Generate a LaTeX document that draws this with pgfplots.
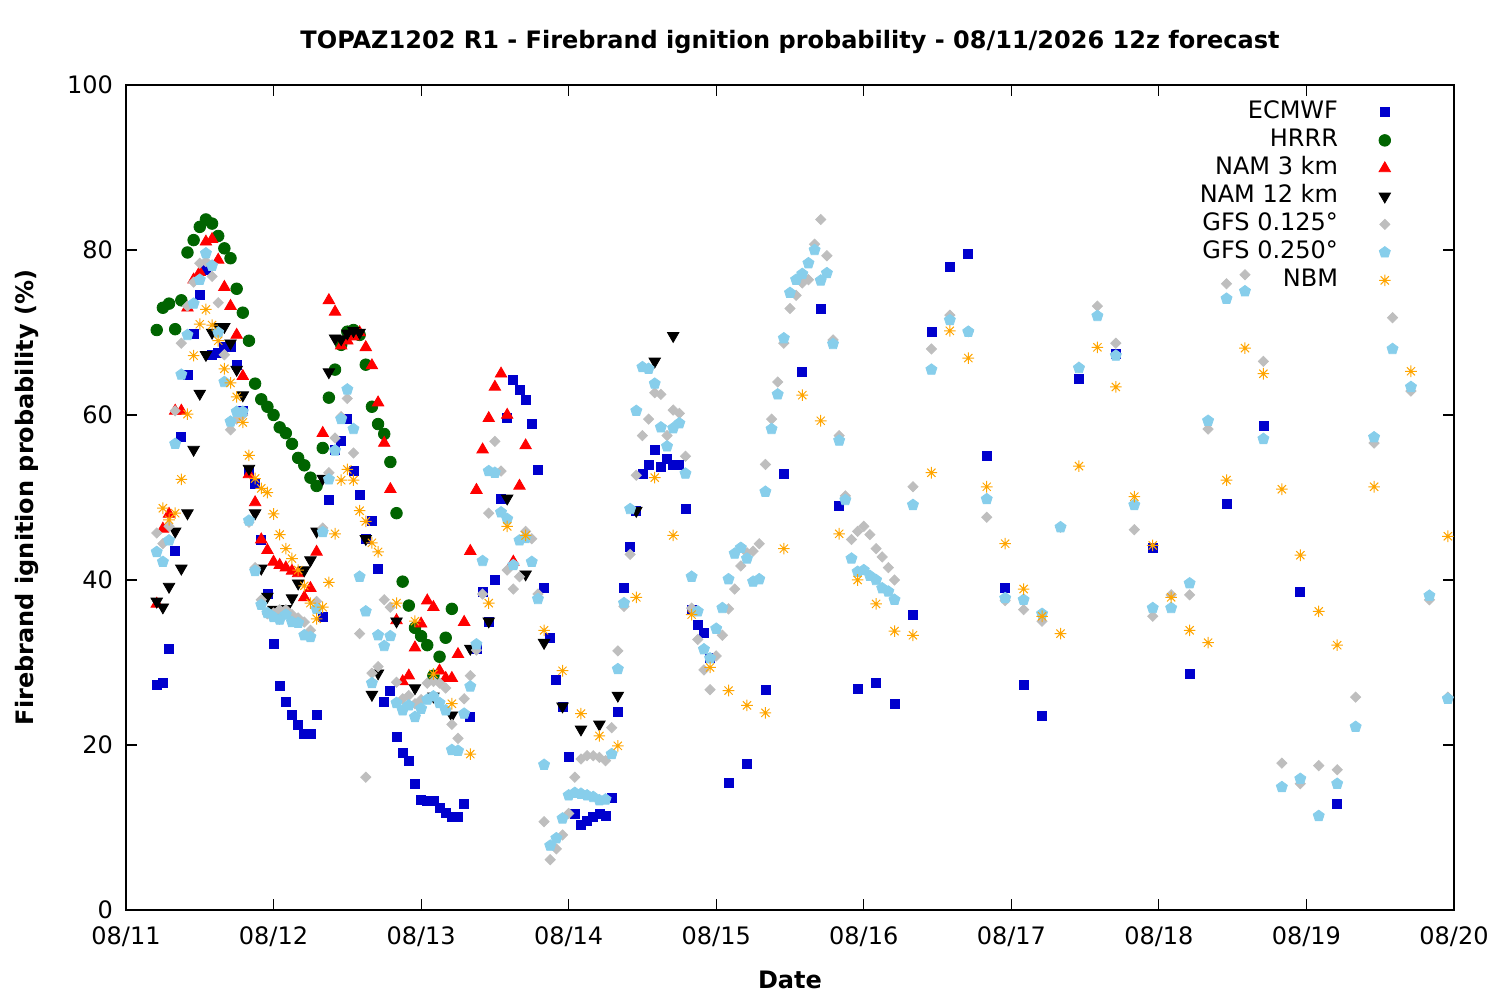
\documentclass[border=0pt]{standalone}
\usepackage{fontspec}
\setmainfont{DejaVu Sans}
\usepackage{pgfplots}
\pgfplotsset{compat=1.18}
\definecolor{ecm}{RGB}{0,0,205}
\definecolor{hrrr}{RGB}{0,100,0}
\definecolor{gfsa}{RGB}{190,190,190}
\definecolor{gfsb}{RGB}{135,206,235}
\definecolor{nbm}{RGB}{255,165,0}
\pgfdeclareplotmark{ast8}{%
 \pgfpathmoveto{\pgfqpoint{0pt}{\pgfplotmarksize}}\pgfpathlineto{\pgfqpoint{0pt}{-\pgfplotmarksize}}%
 \pgfpathmoveto{\pgfqpoint{\pgfplotmarksize}{0pt}}\pgfpathlineto{\pgfqpoint{-\pgfplotmarksize}{0pt}}%
 \pgfpathmoveto{\pgfqpoint{.707\pgfplotmarksize}{.707\pgfplotmarksize}}\pgfpathlineto{\pgfqpoint{-.707\pgfplotmarksize}{-.707\pgfplotmarksize}}%
 \pgfpathmoveto{\pgfqpoint{-.707\pgfplotmarksize}{.707\pgfplotmarksize}}\pgfpathlineto{\pgfqpoint{.707\pgfplotmarksize}{-.707\pgfplotmarksize}}%
 \pgfusepathqstroke}
\newcommand\f{\fontsize{12pt}{14.4pt}\selectfont}
\begin{document}
\begin{tikzpicture}
\begin{axis}[
 scale only axis, width=664pt, height=412.5pt,
 xmin=0, xmax=216, ymin=0, ymax=100,
 xtick={0,24,...,216},
 xticklabels={08/11,08/12,08/13,08/14,08/15,08/16,08/17,08/18,08/19,08/20},
 ytick={0,20,...,100},
 /pgf/number format/assume math mode=true,
 tick pos=both, tick align=inside, major tick length=5.5pt,
 every tick/.style={black, line width=0.6pt},
 axis line style={line width=0.6pt},
 tick label style={font=\f},
 yticklabel style={xshift=-3pt},
 xticklabel style={yshift=-5pt},
 every axis x label/.style={at={(axis description cs:0.5,-0.0848)},anchor=center},
 every axis y label/.style={at={(axis description cs:-0.0745,0.5)},rotate=90,anchor=center},
 every axis title/.style={at={(axis description cs:0.5,1.052)},anchor=center,font=\f\bfseries},
 label style={font=\f\bfseries},
 xlabel={Date},
 ylabel={Firebrand ignition probability (\%)},
 title={TOPAZ1202 R1 - Firebrand ignition probability - 08/11/2026 12z forecast},
 legend plot pos=right, legend cell align=right,
 legend style={draw=none, fill=none, at={(rel axis cs:1,1)}, anchor=north east,
   xshift=-31.5pt, yshift=-6.5pt, inner sep=0pt, row sep=0pt, column sep=19pt,
   nodes={inner sep=1.5pt, text height=8.5pt, text depth=2.5pt, font=\f}},
]
\addplot[only marks, mark=square*, mark size=2.25pt, color=ecm] coordinates {
(5,27.3)(6,27.5)(7,31.6)(8,43.5)(9,57.3)(10,64.9)(11,69.8)(12,74.5)(13,77.6)(14,67.3)(15,67.5)(16,68.3)(17,68.2)(18,66.1)(19,60.5)(20,53.1)(21,51.7)(22,44.8)(23,38.3)(24,32.2)(25,27.2)(26,25.2)(27,23.6)(28,22.4)(29,21.3)(30,21.3)(31,23.7)(32,35.5)(33,49.7)(34,55.8)(35,56.8)(36,59.5)(37,53.2)(38,50.3)(39,45.0)(40,47.2)(41,41.4)(42,25.2)(43,26.5)(44,21.0)(45,19.0)(46,18.1)(47,15.3)(48,13.4)(49,13.2)(50,13.2)(51,12.4)(52,11.8)(53,11.3)(54,11.3)(55,12.8)(56,23.4)(57,31.7)(58,38.5)(59,34.9)(60,40.0)(61,49.8)(62,59.7)(63,64.2)(64,63.1)(65,61.8)(66,58.9)(67,53.3)(68,39.1)(69,33.0)(70,27.9)(71,24.6)(72,18.6)(73,11.6)(74,10.3)(75,10.8)(76,11.3)(77,11.7)(78,11.4)(79,13.6)(80,24.0)(81,39.1)(82,44.0)(83,48.4)(84,52.9)(85,54.0)(86,55.8)(87,53.7)(88,54.7)(89,54.0)(90,54.0)(91,48.6)(92,36.4)(93,34.5)(94,33.6)(95,30.5)(98,15.4)(101,17.7)(104,26.7)(107,52.8)(110,65.2)(113,72.9)(116,49.0)(119,26.8)(122,27.5)(125,25.0)(128,35.8)(131,70.1)(134,77.9)(137,79.5)(140,55.0)(143,39.1)(146,27.3)(149,23.5)(155,64.4)(161,67.4)(167,43.9)(173,28.6)(179,49.2)(185,58.7)(191,38.6)(197,12.9)
};
\addlegendentry{ECMWF}
\addplot[only marks, mark=*, mark size=2.9pt, color=hrrr] coordinates {
(5,70.3)(6,73.0)(7,73.5)(8,70.4)(9,73.9)(10,79.7)(11,81.2)(12,82.8)(13,83.7)(14,83.2)(15,81.7)(16,80.2)(17,79.0)(18,75.3)(19,72.4)(20,69.0)(21,63.8)(22,61.9)(23,61.0)(24,60.0)(25,58.5)(26,57.8)(27,56.5)(28,54.8)(29,53.9)(30,52.4)(31,51.4)(32,56.0)(33,62.1)(34,65.5)(35,68.5)(36,70.1)(37,70.3)(38,69.7)(39,66.1)(40,61.0)(41,58.9)(42,57.7)(43,54.3)(44,48.1)(45,39.8)(46,36.9)(47,34.2)(48,33.2)(49,32.1)(50,28.4)(51,30.7)(52,33.0)(53,36.5)
};
\addlegendentry{HRRR}
\addplot[only marks, mark=triangle*, mark size=3.3pt, color=red] coordinates {
(5,37.1)(6,46.2)(7,48.0)(8,60.5)(9,60.5)(10,73.0)(11,76.4)(12,77.3)(13,81.0)(14,81.3)(15,78.8)(16,75.5)(17,73.2)(18,69.7)(19,64.7)(20,52.8)(21,49.4)(22,44.9)(23,43.6)(24,42.2)(25,41.8)(26,41.5)(27,41.1)(28,40.8)(29,37.9)(30,39.0)(31,43.4)(32,57.8)(33,73.9)(34,72.5)(35,68.4)(36,69.0)(37,69.5)(38,70.0)(39,68.2)(40,66.0)(41,61.5)(42,56.6)(43,51.0)(44,35.1)(45,27.7)(46,28.4)(47,31.8)(48,34.7)(49,37.5)(50,36.7)(51,29.0)(52,28.1)(53,28.1)(54,31.0)(55,34.9)(56,43.5)(57,50.9)(58,55.8)(59,59.6)(60,63.4)(61,65.0)(62,60.0)(63,42.2)(64,51.4)(65,56.3)
};
\addlegendentry{NAM 3 km}
\addplot[only marks, mark=triangle*, mark size=3.3pt, mark options={rotate=180}, color=black] coordinates {
(5,37.4)(6,36.7)(7,39.2)(8,45.9)(9,41.4)(10,48.1)(11,55.8)(12,62.6)(13,67.3)(14,70.0)(15,70.7)(16,70.7)(17,68.7)(18,65.5)(19,62.4)(20,53.5)(21,48.1)(22,41.4)(23,38.0)(24,36.4)(25,35.5)(26,36.5)(27,37.8)(28,39.6)(29,41.2)(30,42.4)(31,45.9)(32,52.3)(33,65.2)(34,69.3)(35,69.2)(36,69.9)(37,70.2)(38,70.0)(39,45.0)(40,26.1)(41,28.7)(44,35.0)(47,26.9)(50,25.9)(53,23.6)(56,31.7)(59,35.0)(62,49.9)(65,40.7)(68,32.4)(71,24.7)(74,21.9)(77,22.5)(80,26.0)(83,48.4)(86,66.5)(89,69.6)
};
\addlegendentry{NAM 12 km}
\addplot[only marks, mark=square*, mark size=1.8pt, mark options={rotate=45}, color=gfsa] coordinates {
(5,45.7)(6,44.4)(7,46.5)(8,60.5)(9,68.7)(10,73.2)(11,76.1)(12,78.4)(13,78.6)(14,76.8)(15,73.6)(16,67.3)(17,58.2)(18,59.5)(19,60.0)(20,47.0)(21,41.5)(22,37.6)(23,35.9)(24,36.0)(25,36.4)(26,36.4)(27,35.8)(28,35.4)(29,34.9)(30,33.9)(31,37.4)(32,46.3)(33,53.0)(34,57.2)(35,59.8)(36,62.0)(37,55.4)(38,33.5)(39,16.1)(40,28.7)(41,29.5)(42,37.6)(43,36.7)(44,27.6)(45,25.6)(46,26.0)(47,25.0)(48,25.5)(49,27.5)(50,27.7)(51,27.5)(52,26.9)(53,22.5)(54,20.8)(55,25.6)(56,28.4)(57,31.5)(58,38.3)(59,48.1)(60,56.8)(61,53.2)(62,41.2)(63,38.9)(64,40.4)(65,45.9)(66,45.0)(67,38.3)(68,10.7)(69,6.1)(70,7.4)(71,9.1)(72,11.7)(73,16.1)(74,18.3)(75,18.7)(76,18.7)(77,18.5)(78,18.1)(79,22.1)(80,31.4)(81,36.8)(82,43.1)(83,52.7)(84,57.5)(85,59.5)(86,62.7)(87,62.5)(88,57.5)(89,60.6)(90,60.2)(91,55.0)(92,36.6)(93,32.8)(94,29.1)(95,26.7)(96,30.8)(97,33.3)(98,36.5)(99,38.9)(100,41.7)(101,43.3)(102,43.5)(103,44.4)(104,54.0)(105,59.5)(106,64.0)(107,68.7)(108,72.9)(109,74.5)(110,76.0)(111,76.4)(112,80.7)(113,83.7)(114,79.3)(115,69.1)(116,57.5)(117,50.2)(118,44.9)(119,45.9)(120,46.5)(121,45.5)(122,43.8)(123,42.8)(124,41.5)(125,40.0)(128,51.3)(131,68.0)(134,72.1)(137,70.1)(140,47.6)(143,37.5)(146,36.4)(149,35.0)(152,46.4)(155,65.8)(158,73.2)(161,68.7)(164,46.1)(167,35.6)(170,38.2)(173,38.2)(176,58.3)(179,75.9)(182,77.0)(185,66.5)(188,17.8)(191,15.3)(194,17.5)(197,17.0)(200,25.8)(203,56.6)(206,71.8)(209,62.9)(212,37.6)(215,25.8)
};
\addlegendentry{GFS 0.125°}
\addplot[only marks, mark=pentagon*, mark size=2.9pt, color=gfsb] coordinates {
(5,43.4)(6,42.2)(7,44.8)(8,56.5)(9,64.9)(10,69.7)(11,73.5)(12,76.4)(13,79.6)(14,78.1)(15,70.0)(16,64.0)(17,59.2)(18,60.4)(19,60.4)(20,47.2)(21,41.1)(22,37.0)(23,36.0)(24,35.5)(25,35.2)(26,35.8)(27,34.9)(28,34.8)(29,33.3)(30,33.1)(31,36.5)(32,45.8)(33,52.2)(34,55.7)(35,59.5)(36,63.1)(37,58.3)(38,40.4)(39,36.2)(40,27.5)(41,33.3)(42,32.0)(43,33.2)(44,25.1)(45,24.2)(46,24.8)(47,23.4)(48,24.4)(49,25.5)(50,25.9)(51,25.1)(52,24.2)(53,19.4)(54,19.3)(55,23.8)(56,27.1)(57,32.2)(58,42.3)(59,53.2)(60,53.0)(61,48.2)(62,47.4)(63,41.8)(64,44.8)(65,45.1)(66,42.2)(67,37.7)(68,17.6)(69,7.8)(70,8.7)(71,11.1)(72,13.9)(73,14.2)(74,14.1)(75,13.9)(76,13.7)(77,13.3)(78,13.4)(79,18.9)(80,29.2)(81,37.2)(82,48.6)(83,60.5)(84,65.8)(85,65.6)(86,63.8)(87,58.5)(88,56.2)(89,58.4)(90,59.0)(91,52.9)(92,40.4)(93,36.2)(94,31.6)(95,30.5)(96,34.1)(97,36.6)(98,40.1)(99,43.2)(100,43.9)(101,42.6)(102,39.8)(103,40.1)(104,50.7)(105,58.3)(106,62.5)(107,69.3)(108,74.8)(109,76.4)(110,77.1)(111,78.4)(112,80.0)(113,76.3)(114,77.2)(115,68.6)(116,56.9)(117,49.7)(118,42.6)(119,41.0)(120,41.2)(121,40.5)(122,40.0)(123,39.0)(124,38.6)(125,37.6)(128,49.1)(131,65.5)(134,71.5)(137,70.1)(140,49.8)(143,37.8)(146,37.6)(149,35.9)(152,46.4)(155,65.7)(158,72.0)(161,67.2)(164,49.1)(167,36.6)(170,36.6)(173,39.6)(176,59.3)(179,74.1)(182,75.0)(185,57.1)(188,14.9)(191,15.9)(194,11.4)(197,15.3)(200,22.2)(203,57.3)(206,68.0)(209,63.4)(212,38.1)(215,25.6)
};
\addlegendentry{GFS 0.250°}
\addplot[only marks, mark=ast8, mark size=2.9pt, mark options={line width=0.5pt}, color=nbm] coordinates {
(6,48.7)(7,47.3)(8,48.1)(9,52.2)(10,60.1)(11,67.2)(12,71.0)(13,72.8)(14,70.9)(15,69.0)(16,65.6)(17,63.9)(18,62.2)(19,59.1)(20,55.1)(21,52.3)(22,51.1)(23,50.6)(24,48.0)(25,45.5)(26,43.8)(27,42.6)(28,41.2)(29,39.3)(30,37.2)(31,35.3)(32,36.7)(33,39.7)(34,45.6)(35,52.1)(36,53.4)(37,52.1)(38,48.4)(39,47.1)(40,44.5)(41,43.4)(44,37.2)(47,35.0)(50,28.6)(53,25.0)(56,18.9)(59,37.2)(62,46.5)(65,45.4)(68,33.9)(71,29.0)(74,23.8)(77,21.1)(80,19.9)(83,37.9)(86,52.4)(89,45.4)(92,35.8)(95,29.4)(98,26.6)(101,24.8)(104,23.9)(107,43.8)(110,62.4)(113,59.3)(116,45.6)(119,40.0)(122,37.1)(125,33.8)(128,33.3)(131,53.0)(134,70.2)(137,66.9)(140,51.3)(143,44.4)(146,38.9)(149,35.6)(152,33.5)(155,53.8)(158,68.2)(161,63.4)(164,50.1)(167,44.2)(170,37.9)(173,33.9)(176,32.4)(179,52.1)(182,68.1)(185,65.0)(188,51.0)(191,43.0)(194,36.2)(197,32.1)(203,51.3)(209,65.3)(215,45.3)
};
\addlegendentry{NBM}
\end{axis}
\pgfresetboundingbox
\path[use as bounding box] (-63pt,-45pt) rectangle (687pt,455pt);
\end{tikzpicture}
\end{document}
